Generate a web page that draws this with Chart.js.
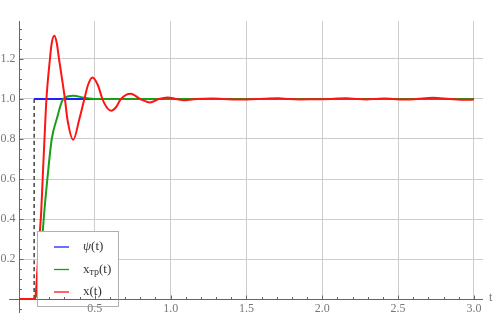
<!DOCTYPE html>
<html>
<head>
<meta charset="utf-8">
<script src="https://cdn.jsdelivr.net/npm/chart.js@4"></script>
<style>
  html, body { margin: 0; padding: 0; background: #fff; }
  #wrap { width: 496px; height: 318px; }
</style>
</head>
<body>
<div id="wrap"><canvas id="chart" width="496" height="318"></canvas></div>
<script>
// ================================
// Step responses
// ================================

// reference input psi(t): unit step after the delay
const psiT = [0.1, 3.0];
const psiY = [1.0, 1.0];

// dashed marker at the delay
const delayT = [0.1, 0.1];
const delayY = [0.0, 1.0];

// x_tr(t): desired (smooth) response
const trT = [0, 0.1, 0.11, 0.12, 0.13, 0.14, 0.15, 0.157, 0.165, 0.187, 0.216, 0.249, 0.292, 0.358, 0.43, 0.5, 3.0];
const trY = [0, 0, 0.01, 0.04, 0.1, 0.18, 0.27, 0.34, 0.42, 0.6, 0.8, 0.9, 1.0, 1.016, 1.006, 1.0, 1.0];

// x(t): actual oscillating response
const xT = [0, 0.106, 0.112, 0.12, 0.128, 0.137, 0.146, 0.156, 0.168, 0.181,
            0.204, 0.216, 0.233, 0.249, 0.264, 0.303, 0.319, 0.358, 0.398, 0.431,
            0.455, 0.484, 0.52, 0.55, 0.577, 0.607, 0.641, 0.672, 0.736, 0.80,
            0.864, 0.922, 0.98, 1.037, 1.092, 1.17, 1.27, 1.35, 1.435, 1.57,
            1.71, 1.78, 1.85, 1.95, 2.06, 2.16, 2.23, 2.29, 2.35, 2.41,
            2.47, 2.53, 2.62, 2.73, 2.84, 2.95, 3.0];
const xY = [0, 0, 0.04, 0.13, 0.23, 0.33, 0.43, 0.6, 0.8, 1.0,
            1.2, 1.28, 1.3165, 1.28, 1.2, 1.0, 0.9, 0.796, 0.9, 1.0,
            1.07, 1.108, 1.07, 1.0, 0.96, 0.9415, 0.96, 1.0, 1.0265, 1.0,
            0.983, 1.0, 1.008, 1.0, 0.994, 1.0, 1.003, 1.0, 0.997, 1.0,
            1.004, 1.0, 0.998, 0.999, 1.0, 1.004, 1.0, 0.998, 1.0, 1.003,
            1.0, 0.997, 1.0, 1.006, 1.0, 0.996, 0.997];

// ticks
const xTicks = [0.5, 1.0, 1.5, 2.0, 2.5, 3.0];
const xTickLabels = ['0.5', '1.0', '1.5', '2.0', '2.5', '3.0'];
const yTicks = [0.2, 0.4, 0.6, 0.8, 1.0, 1.2];
const yTickLabels = ['0.2', '0.4', '0.6', '0.8', '1.0', '1.2'];
const xAxisTitle = 't';

// legend text: [main, subscript, tail]
const legendNames = [['ψ', '', '(t)'], ['x', 'тр', '(t)'], ['x', '', '(t)']];

const SERIF = '"Liberation Serif", "DejaVu Serif", serif';
const toPoints = (ts, vs) => ts.map((t, i) => ({ x: t, y: vs[i] }));

// Axes through the origin, Mathematica style (ticks point inward)
function drawAxes(chart) {
  const { ctx, scales: { x, y } } = chart;
  const x0 = Math.round(x.getPixelForValue(0)) + 0.5;
  const y0 = Math.round(y.getPixelForValue(0)) + 0.5;
  ctx.save();
  ctx.strokeStyle = '#666';
  ctx.lineWidth = 1;
  ctx.beginPath();
  ctx.moveTo(x.getPixelForValue(-0.065), y0);
  ctx.lineTo(x.right, y0);
  ctx.moveTo(x0, y.top);
  ctx.lineTo(x0, y.getPixelForValue(-0.07));
  for (let i = 1; i <= 30; i++) {
    const px = Math.round(x.getPixelForValue(i / 10)) + 0.5;
    const len = i % 5 === 0 ? 4 : 2.5;
    ctx.moveTo(px, y0);
    ctx.lineTo(px, y0 - len);
  }
  for (let i = -1; i <= 27; i++) {
    if (i === 0) continue;
    const py = Math.round(y.getPixelForValue(i * 0.05)) + 0.5;
    const len = i % 4 === 0 ? 4 : 2.5;
    ctx.moveTo(x0, py);
    ctx.lineTo(x0 + len, py);
  }
  ctx.stroke();

  ctx.fillStyle = '#777';
  ctx.font = '12px ' + SERIF;
  ctx.textAlign = 'center';
  ctx.textBaseline = 'alphabetic';
  xTicks.forEach((v, i) => ctx.fillText(xTickLabels[i], x.getPixelForValue(v), y0 + 12.5));
  ctx.textAlign = 'right';
  ctx.textBaseline = 'middle';
  yTicks.forEach((v, i) => ctx.fillText(yTickLabels[i], x0 - 4, y.getPixelForValue(v)));
  ctx.textAlign = 'left';
  ctx.fillText(xAxisTitle, x.right + 6, y0 - 2);
  ctx.restore();
}

const axesPlugin = {
  id: 'originAxes',
  beforeDatasetsDraw(chart) { drawAxes(chart); }
};

const boxLegend = {
  id: 'boxLegend',
  afterDatasetsDraw(chart) {
    const ctx = chart.ctx;
    const bx = 37.5, by = 231.5, bw = 81, bh = 75;
    ctx.save();
    ctx.fillStyle = '#fff';
    ctx.fillRect(bx, by, bw, bh);
    ctx.strokeStyle = '#b0b0b0';
    ctx.lineWidth = 1;
    ctx.strokeRect(bx, by, bw, bh);

    const rows = chart.data.datasets.filter(d => d.inLegend);
    rows.forEach((ds, i) => {
      const cy = 247 + i * 22.5;
      ctx.strokeStyle = ds.borderColor;
      ctx.lineWidth = 1.3;
      ctx.beginPath();
      ctx.moveTo(54, cy);
      ctx.lineTo(69, cy);
      ctx.stroke();

      const [main, sub, tail] = legendNames[i];
      let tx = 83;
      ctx.fillStyle = '#333';
      ctx.textAlign = 'left';
      ctx.textBaseline = 'middle';
      ctx.font = (main === 'ψ' ? 'italic ' : '') + '13px ' + SERIF;
      ctx.fillText(main, tx, cy);
      tx += ctx.measureText(main).width;
      if (sub) {
        ctx.font = '10px ' + SERIF;
        ctx.fillText(sub, tx, cy + 3);
        tx += ctx.measureText(sub).width;
      }
      ctx.font = '13px ' + SERIF;
      ctx.fillText(tail, tx, cy);
    });
    ctx.restore();

    // the axis shows through the legend box
    ctx.save();
    ctx.beginPath();
    ctx.rect(bx, by, bw, bh);
    ctx.clip();
    drawAxes(chart);
    ctx.restore();
  }
};

const lineDefaults = {
  showLine: true,
  pointRadius: 0,
  fill: false,
  clip: false,
  cubicInterpolationMode: 'monotone'
};

new Chart(document.getElementById('chart'), {
  type: 'scatter',
  data: {
    datasets: [
      { ...lineDefaults, label: 'ψ(t)', inLegend: true, data: toPoints(psiT, psiY),
        borderColor: '#1f1fff', borderWidth: 2, order: 3 },
      { ...lineDefaults, label: 'xтр(t)', inLegend: true, data: toPoints(trT, trY),
        borderColor: '#17a017', borderWidth: 2, order: 2 },
      { ...lineDefaults, label: 'x(t)', inLegend: true, data: toPoints(xT, xY),
        borderColor: '#ff1414', borderWidth: 2, order: 1 },
      { ...lineDefaults, label: 'delay', inLegend: false, data: toPoints(delayT, delayY),
        borderColor: '#444', borderWidth: 1.5, borderDash: [4, 3], order: 4 }
    ]
  },
  options: {
    responsive: false,
    animation: false,
    devicePixelRatio: 1,
    layout: { padding: { left: 19, top: 21, right: 13, bottom: 19 } },
    plugins: { legend: { display: false }, tooltip: { enabled: false } },
    scales: {
      x: {
        type: 'linear', min: 0, max: 3.06,
        ticks: { display: false, stepSize: 0.5, includeBounds: false },
        grid: { color: '#cdcdcd', drawTicks: false },
        border: { display: false }
      },
      y: {
        type: 'linear', min: 0, max: 1.39,
        ticks: { display: false, stepSize: 0.2, includeBounds: false },
        grid: { color: '#cdcdcd', drawTicks: false },
        border: { display: false }
      }
    }
  },
  plugins: [axesPlugin, boxLegend]
});
</script>
</body>
</html>
